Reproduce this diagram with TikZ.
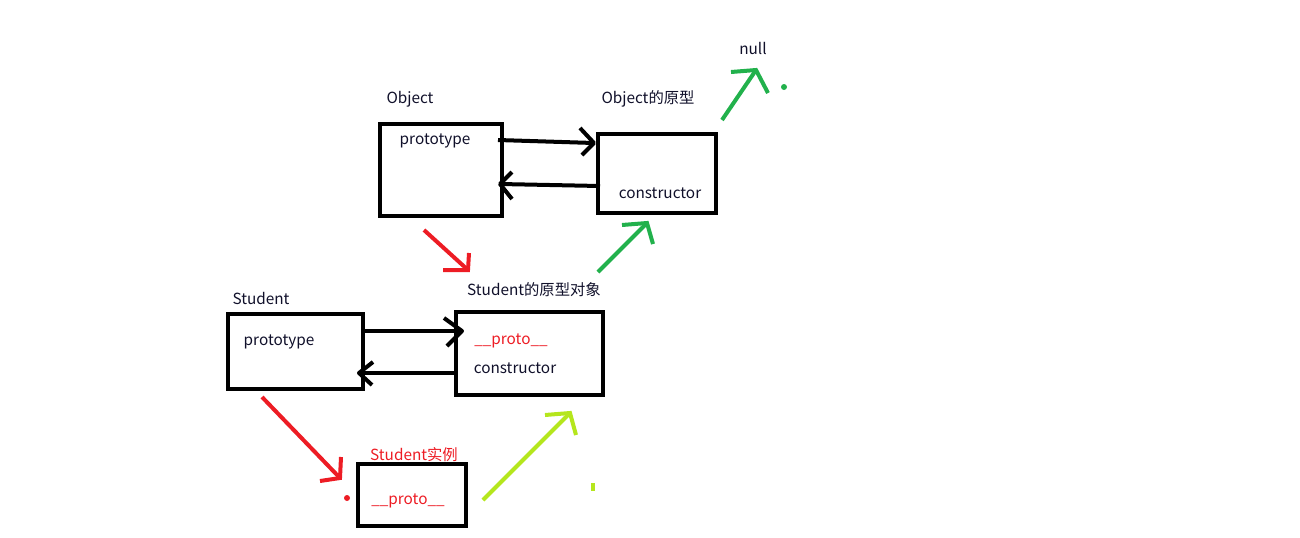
\documentclass[tikz,border=0pt]{standalone}
\usepackage{fontspec}
\setmainfont{Noto Sans CJK SC}
\definecolor{pred}{HTML}{ED1C24}
\definecolor{pgreen}{HTML}{22B14C}
\definecolor{plime}{HTML}{B5E61D}
\definecolor{ptext}{HTML}{10102A}
\begin{document}
\begin{tikzpicture}[x=0.75pt,y=-0.75pt,
  boxx/.style={draw=black,line width=3pt},
  lbl/.style={inner sep=0pt,font=\fontsize{11.5}{13}\selectfont,text=ptext},
  rlbl/.style={inner sep=0pt,font=\fontsize{11.5}{13}\selectfont,text=pred},
  blk/.style={draw=black,line width=3pt},
  redl/.style={draw=pred,line width=3pt},
  grnl/.style={draw=pgreen,line width=3pt},
  liml/.style={draw=plime,line width=3pt}]
\useasboundingbox (0,0) rectangle (1300,537);
% boxes
\draw[boxx] (380,124) rectangle (502,216);
\draw[boxx] (598,134) rectangle (716,213);
\draw[boxx] (228,314) rectangle (363,389);
\draw[boxx] (456,312) rectangle (603,395);
\draw[boxx] (358,464) rectangle (466,526);
% labels
\node[lbl] (lobj) at (410,99) {Object};
\node[lbl] (lobjp) at (648,99) {Object的原型};
\node[lbl] (lnull) at (753,48) {null};
\node[lbl] (lprot1) at (435,141) {prototype};
\node[lbl] (lcons1) at (660,193) {constructor};
\node[lbl] (lstu) at (261,298) {Student};
\node[lbl] (lprot2) at (279,342) {prototype};
\node[lbl] (lstup) at (534,290) {Student的原型对象};
\node[rlbl] (lpr1) at (511,341) {\_\_proto\_\_};
\node[lbl] (lcons2) at (515,368) {constructor};
\node[rlbl] (linst) at (414,455) {Student实例};
\node[rlbl] (lpr2) at (408,501) {\_\_proto\_\_};
% black arrows
\coordinate (a1s) at (498,140); \coordinate (a1e) at (594,143);
\coordinate (a1u) at (580,128); \coordinate (a1d) at (582,155);
\draw[blk] (a1s) -- (a1e);
\draw[blk,line join=round] (a1u) -- (a1e) -- (a1d);
\coordinate (a2s) at (600,186); \coordinate (a2e) at (500,184);
\coordinate (a2u) at (512,172); \coordinate (a2d) at (512,199);
\draw[blk] (a2s) -- (a2e);
\draw[blk,line join=round] (a2u) -- (a2e) -- (a2d);
\coordinate (a3s) at (365,331); \coordinate (a3e) at (462,331);
\coordinate (a3u) at (444,318); \coordinate (a3d) at (447,346);
\draw[blk] (a3s) -- (a3e);
\draw[blk,line join=round] (a3u) -- (a3e) -- (a3d);
\coordinate (a4s) at (456,373); \coordinate (a4e) at (359,373);
\coordinate (a4u) at (373,362); \coordinate (a4d) at (372,385);
\draw[blk] (a4s) -- (a4e);
\draw[blk,line join=round] (a4u) -- (a4e) -- (a4d);
% red arrows
\coordinate (r1s) at (424,230); \coordinate (r1e) at (468,270);
\draw[redl] (r1s) -- (r1e);
\draw[redl] (443,270) -- (r1e) -- (469,253);
\coordinate (r2s) at (262,397); \coordinate (r2e) at (340,478);
\draw[redl] (r2s) -- (r2e);
\draw[redl] (320,481) -- (r2e) -- (341,457);
\fill[pred] (347,498) circle (3);
% green arrows
\coordinate (g1s) at (598,272); \coordinate (g1e) at (647,223);
\draw[grnl] (g1s) -- (g1e);
\draw[grnl] (622,225) -- (g1e) -- (653,244);
\coordinate (g2s) at (722,120); \coordinate (g2e) at (756,70);
\draw[grnl] (g2s) -- (g2e);
\draw[grnl] (731,72) -- (g2e) -- (768,93);
\fill[pgreen] (784,87) circle (3);
% lime arrow
\coordinate (l1s) at (483,500); \coordinate (l1e) at (570,413);
\draw[liml] (l1s) -- (l1e);
\draw[liml] (545,415) -- (l1e) -- (576,435);
\draw[liml] (593,483) -- (593,491);
\end{tikzpicture}
\end{document}
